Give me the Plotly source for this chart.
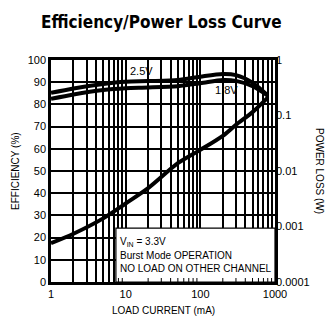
import plotly.graph_objects as go

# Data
load_ma = [1, 2, 5, 10, 20, 50, 100, 200, 300, 500, 800]
eff_25v = [85.2, 87.2, 89.2, 90.2, 90.5, 91.0, 92.5, 93.7, 93.2, 89.8, 84.0]
eff_18v = [82.5, 84.5, 86.5, 87.3, 87.6, 88.2, 89.5, 91.0, 90.6, 88.2, 84.0]
loss_ma = [1, 2, 5, 10, 20, 50, 100, 200, 300, 500, 800]
loss_w = [0.0005, 0.00074, 0.0014, 0.0026, 0.0049, 0.0138, 0.024, 0.043, 0.068, 0.115, 0.21]

x_ticks = [1, 10, 100, 1000]
x_tick_labels = ["1", "10", "100", "1000"]
eff_ticks = [0, 10, 20, 30, 40, 50, 60, 70, 80, 90, 100]
loss_ticks = [0.0001, 0.001, 0.01, 0.1, 1]
loss_tick_labels = ["0.0001", "0.001", "0.01", "0.1", "1"]

FONT = "Liberation Sans"
fig = go.Figure()
line = dict(color="black", width=4, shape="spline", smoothing=0.8)
fig.add_trace(go.Scatter(x=load_ma, y=eff_25v, mode="lines", line=line, showlegend=False))
fig.add_trace(go.Scatter(x=load_ma, y=eff_18v, mode="lines", line=line, showlegend=False))
fig.add_trace(go.Scatter(x=loss_ma, y=loss_w, mode="lines", line=line, yaxis="y2", showlegend=False))

fig.update_layout(
    width=331, height=321,
    margin=dict(l=51, r=56, t=60, b=39),
    paper_bgcolor="white", plot_bgcolor="white",
    font=dict(family=FONT, size=11, color="black"),
    xaxis=dict(type="log", range=[0, 3], tickvals=x_ticks, ticktext=x_tick_labels,
               showgrid=True, gridcolor="black", gridwidth=1.5,
               showline=True, linecolor="black", linewidth=2.5, mirror=True,
               ticks="", zeroline=False,
               minor=dict(dtick="D1", showgrid=True, gridcolor="black", gridwidth=1.5)),
    yaxis=dict(range=[0, 100], tickvals=eff_ticks, showgrid=True, gridcolor="black", gridwidth=1.5,
               showline=True, linecolor="black", linewidth=2.5, mirror=True, ticks="",
               zeroline=False),
    yaxis2=dict(type="log", range=[-4, 0], overlaying="y", side="right",
                tickvals=loss_ticks, ticktext=loss_tick_labels, showgrid=False,
                ticks="", zeroline=False, showline=False),
)

# text box covering the grid
box_x0 = 7.4
fig.add_shape(type="rect", xref="x", yref="y", x0=box_x0, x1=1000, y0=0, y1=24.3,
              fillcolor="white", line=dict(color="black", width=1.2), layer="between")
# small axis ticks visible inside the box
for dec in [1, 10, 100]:
    for m in range(2, 10):
        v = dec * m
        if v > box_x0:
            fig.add_shape(type="line", xref="x", yref="y", x0=v, x1=v,
                          ysizemode="pixel", yanchor=0, y0=0, y1=4,
                          line=dict(color="black", width=1), layer="above")

ann = [
    dict(text="<b>Efficiency/Power Loss Curve</b>", x=161, y=22,
         font=dict(family="DejaVu Sans Condensed, Liberation Sans", size=17)),
    dict(text="LOAD CURRENT (mA)", x=163, y=310, font=dict(size=10)),
    dict(text="EFFICIENCY (%)", x=15, y=171, textangle=-90, font=dict(size=10)),
    dict(text="POWER LOSS (W)", x=320, y=171, textangle=90, font=dict(size=10)),
    dict(text="2.5V", x=141, y=71, font=dict(size=11)),
    dict(text="1.8V", x=226, y=90, font=dict(size=11)),
]
for a in ann:
    fig.add_annotation(xref="paper", yref="paper", x=(a["x"] - 51) / 224, y=(282 - a["y"]) / 222,
                       text=a["text"], showarrow=False, textangle=a.get("textangle", 0),
                       font=a["font"], xanchor="center", yanchor="middle")

box_lines = ["V<sub>IN</sub> = 3.3V", "Burst Mode OPERATION", "NO LOAD ON OTHER CHANNEL"]
for i, t in enumerate(box_lines):
    fig.add_annotation(xref="paper", yref="paper", x=(118 - 51) / 224, y=(282 - (242 + 13 * i)) / 222,
                       text=t, showarrow=False, xanchor="left", yanchor="middle",
                       font=dict(size=10))

fig.write_html("out.html")
